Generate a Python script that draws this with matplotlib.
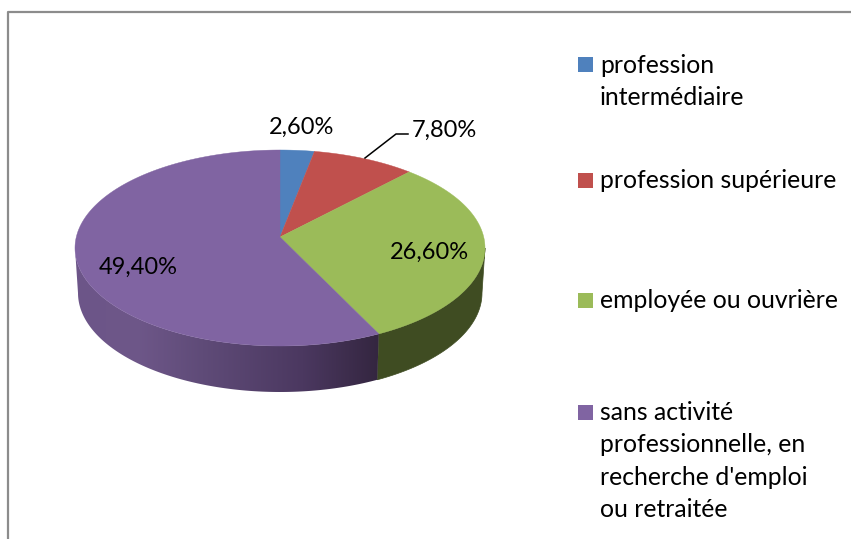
import numpy as np
import matplotlib
matplotlib.use("Agg")
import matplotlib.pyplot as plt
from matplotlib.colors import LinearSegmentedColormap
from matplotlib.patches import Polygon, Rectangle

plt.rcParams["font.family"] = ["Lato", "DejaVu Sans"]

categories = ["profession\nintermédiaire", "profession supérieure",
              "employée ou ouvrière",
              "sans activité\nprofessionnelle, en\nrecherche d'emploi\nou retraitée"]
values = [2.6, 7.8, 26.6, 49.4]
labels = ["2,60%", "7,80%", "26,60%", "49,40%"]
colors = ["#4f81bd", "#c0504d", "#9bbb59", "#8064a2"]
green_side = "#3f4c22"
purple_side = ["#6c5588", "#6e5789", "#5f4b78", "#4b3860", "#342640"]
purple_stops = [0.0, 0.2, 0.42, 0.75, 1.0]

# pixel geometry of the 3d pie
cx, cy, rx, ry = 280, 248, 205, 98
bx, by, brx, bry = 280, 293, 202, 99
apex_y = 237
label_pos = [(302, 127), (444, 130), (429, 252), (138, 267)]
legend_sq_y = [57, 173, 293, 405]
legend_base = [73, 188, 308, 420]
line_step = 32.3
fs = 17
legend_fs = 17.8

fig = plt.figure(figsize=(8.51, 5.39), dpi=100)
ax = fig.add_axes([0, 0, 1, 1])


def rim(deg):
    # perspective: real pie angle to a point of the top ellipse
    th = np.radians(deg)
    e = (cy - apex_y) / ry
    x, y = np.sin(th), np.cos(th)
    xp = x * np.sqrt(1 - e ** 2) / (1 + e * y)
    yp = (y + e) / (1 + e * y)
    return xp, yp


edges = np.cumsum([0] + values) / sum(values) * 360

# side wall, green part then purple part
split_x, split_y = rim(edges[3])
t_split = np.arctan2(split_x, split_y) % (2 * np.pi)


def wall(t0, t1):
    t = np.linspace(t0, t1, 120)
    top = np.column_stack([cx + rx * np.sin(t), cy - ry * np.cos(t)])
    bot = np.column_stack([bx + brx * np.sin(t), by - bry * np.cos(t)])
    return np.vstack([top, bot[::-1]])


ax.add_patch(Polygon(wall(np.pi / 2, t_split), fc=green_side, ec=green_side, lw=0.5))

purple_wall = Polygon(wall(t_split, 3 * np.pi / 2), fc="none", ec="none")
ax.add_patch(purple_wall)
cmap = LinearSegmentedColormap.from_list("side", list(zip(purple_stops, purple_side)))
img = ax.imshow(np.linspace(0, 1, 256).reshape(1, -1), cmap=cmap, aspect="auto",
                extent=[75, cx + rx * np.sin(t_split), 400, 240], zorder=1.5)
img.set_clip_path(purple_wall)

# top face
for i, col in enumerate(colors):
    deg = np.linspace(edges[i], edges[i + 1], 200)
    xp, yp = rim(deg)
    pts = np.column_stack([cx + rx * xp, cy - ry * yp])
    pts = np.vstack([[cx, apex_y], pts])
    ax.add_patch(Polygon(pts, fc=col, ec=col, lw=0.3, zorder=2))

# data labels
for (x, y), txt in zip(label_pos, labels):
    ax.text(x, y, txt, fontsize=fs, ha="center", va="center", color="black", zorder=3)
ax.plot([365, 396, 408], [158, 134, 134], color="black", lw=1.1, zorder=3)

# legend
for col, sq, base, name in zip(colors, legend_sq_y, legend_base, categories):
    ax.add_patch(Rectangle((578, sq), 15, 15, fc=col, ec="none"))
    for j, line in enumerate(name.split("\n")):
        ax.text(600, base + j * line_step, line, fontsize=legend_fs, ha="left", va="baseline",
                color="black")

# chart frame, cropped at right and bottom
ax.plot([8, 8, 851], [539, 12, 12], color="#8c8c8c", lw=1.6)

ax.set_xlim(0, 851)
ax.set_ylim(539, 0)
ax.axis("off")
fig.savefig("out.png", dpi=100, facecolor="white")
